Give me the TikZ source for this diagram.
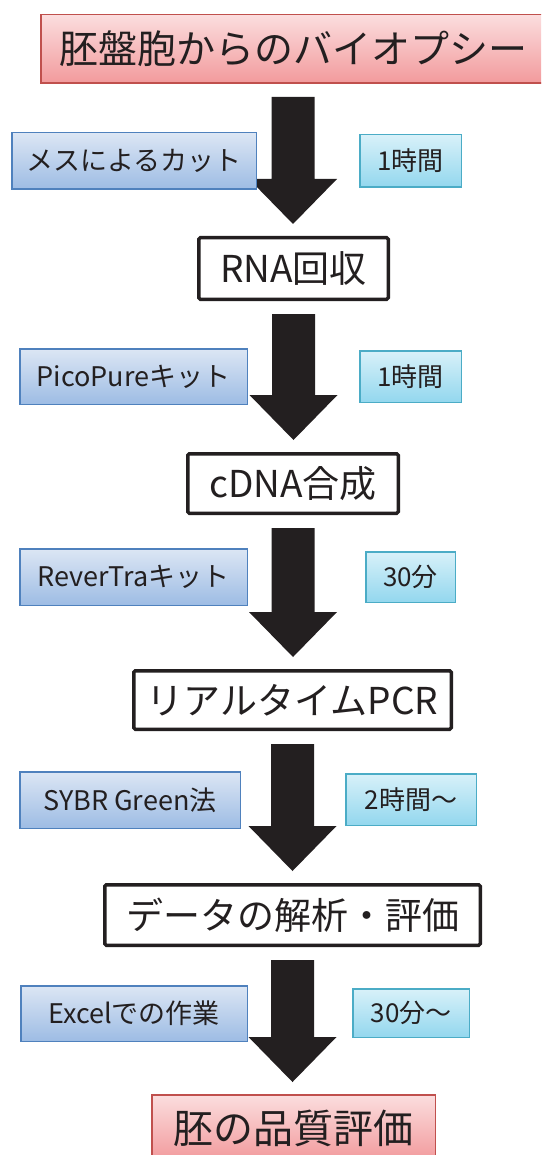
\documentclass[tikz,border=0pt]{standalone}
\usepackage{fontspec}
\setmainfont{Noto Sans CJK JP}
\usetikzlibrary{calc}
\definecolor{inkc}{HTML}{231F20}
\definecolor{pinktop}{HTML}{FBDDDE}
\definecolor{pinkbot}{HTML}{F29A9C}
\definecolor{pinkline}{HTML}{C0504D}
\definecolor{bluetop}{HTML}{DCE6F4}
\definecolor{bluebot}{HTML}{9DBCE4}
\definecolor{blueline}{HTML}{4F81BD}
\definecolor{cyantop}{HTML}{D8F1F9}
\definecolor{cyanbot}{HTML}{93D7EE}
\definecolor{cyanline}{HTML}{4BACC6}
\newcommand\bigarrow[2]{%
  \fill[inkc] let \p1=(#1), \p2=(#2) in
    (\x1-21.5pt,\y1) -- (\x1+21.5pt,\y1) -- (\x1+21.5pt,\y2+45pt) --
    (\x1+44pt,\y2+45pt) -- (\x1,\y2) -- (\x1-44pt,\y2+45pt) --
    (\x1-21.5pt,\y2+45pt) -- cycle;}
\tikzset{
  mainbox/.style={draw=inkc, line width=3.5pt, rounded corners=1.5pt, fill=white,
    text=inkc, inner sep=0pt, font=\fontsize{37}{40}\selectfont},
  pinkbox/.style={draw=pinkline, line width=1.5pt, top color=pinktop, bottom color=pinkbot,
    text=inkc, inner sep=0pt, font=\fontsize{39}{42}\selectfont},
  bluebox/.style={draw=blueline, line width=1.5pt, top color=bluetop, bottom color=bluebot,
    text=inkc, inner sep=0pt, font=\fontsize{27}{30}\selectfont},
  cyanbox/.style={draw=cyanline, line width=1.5pt, top color=cyantop, bottom color=cyanbot,
    text=inkc, inner sep=0pt, font=\fontsize{26}{29}\selectfont},
}
\begin{document}
\begin{tikzpicture}[x=1pt,y=-1pt]
\useasboundingbox (0,0) rectangle (541,1155);
\clip (0,0) rectangle (541,1155);
% main column
\node[pinkbox, minimum width=504.5pt, minimum height=68.5pt] (top) at (293,49) {胚盤胞からのバイオプシー};
\node[mainbox, minimum width=189.5pt, minimum height=61.5pt] (rna) at (293.5,268.5) {RNA回収};
\node[mainbox, minimum width=210.5pt, minimum height=59.5pt] (cdna) at (293,483.5) {cDNA合成};
\node[mainbox, minimum width=317.5pt, minimum height=58.5pt] (pcr) at (292.5,700) {リアルタイムPCR};
\node[mainbox, minimum width=375.5pt, minimum height=60.5pt] (data) at (292.5,915) {データの解析・評価};
\node[pinkbox, minimum width=283.5pt, minimum height=66.5pt, font=\fontsize{40}{43}\selectfont] (final) at (293.5,1128) {胚の品質評価};
% arrows
\bigarrow{[yshift=-13pt]top.south}{[yshift=12pt]rna.north}
\bigarrow{[yshift=-13pt]rna.south}{[yshift=12pt]cdna.north}
\bigarrow{[yshift=-13pt]cdna.south}{[yshift=12pt]pcr.north}
\bigarrow{[yshift=-13pt]pcr.south}{[yshift=12pt]data.north}
\bigarrow{[yshift=-13pt]data.south}{[yshift=12pt]final.north}
% side boxes
\node[bluebox, minimum width=244.5pt, minimum height=56.5pt] (b1) at (134,161) {メスによるカット};
\node[cyanbox, minimum width=101.5pt, minimum height=52.5pt] (c1) at (410.5,161) {1時間};
\node[bluebox, minimum width=227.5pt, minimum height=55.5pt] (b2) at (133.5,376.5) {PicoPureキット};
\node[cyanbox, minimum width=101.5pt, minimum height=51.5pt] (c2) at (410.5,376.5) {1時間};
\node[bluebox, minimum width=227.5pt, minimum height=56.5pt] (b3) at (133.5,577) {ReverTraキット};
\node[cyanbox, minimum width=89.5pt, minimum height=50.5pt] (c3) at (410.5,577) {30分};
\node[bluebox, minimum width=220.5pt, minimum height=56.5pt] (b4) at (130,800) {SYBR Green法};
\node[cyanbox, minimum width=130.5pt, minimum height=51.5pt] (c4) at (411,799.5) {2時間〜};
\node[bluebox, minimum width=226.5pt, minimum height=55.5pt] (b5) at (134,1013.5) {Excelでの作業};
\node[cyanbox, minimum width=116.5pt, minimum height=48.5pt] (c5) at (411,1013) {30分〜};
\end{tikzpicture}
\end{document}
